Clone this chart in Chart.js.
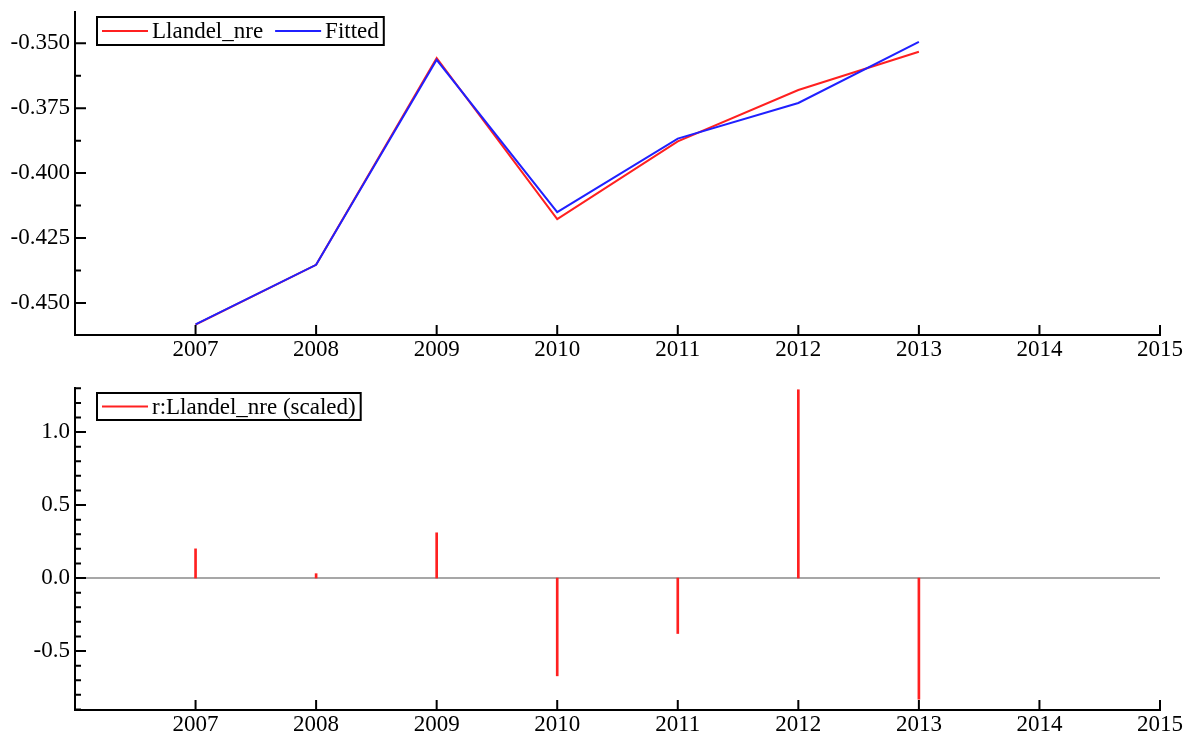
<!DOCTYPE html>
<html>
<head>
<meta charset="utf-8">
<script src="https://cdn.jsdelivr.net/npm/chart.js@4.4.1/dist/chart.umd.min.js"></script>
<style>
  body { margin: 0; background: #fff; }
  .panel { position: absolute; left: 0; }
</style>
</head>
<body>
<div class="panel" style="top:0"><canvas id="fitChart" width="1187" height="368"></canvas></div>
<div class="panel" style="top:368px"><canvas id="resChart" width="1187" height="368"></canvas></div>
<script>
// values
var years = [2007, 2008, 2009, 2010, 2011, 2012, 2013];
var actual = [-0.4583, -0.4353, -0.3557, -0.4177, -0.3878, -0.3680, -0.3533];
var fitted = [-0.4582, -0.4353, -0.3564, -0.4150, -0.3867, -0.3730, -0.3495];
var residuals = [0.20, 0.03, 0.31, -0.67, -0.38, 1.29, -0.83];

var xTickVals = [2007, 2008, 2009, 2010, 2011, 2012, 2013, 2014, 2015];
var yTicksTop = [-0.450, -0.425, -0.400, -0.375, -0.350];
var yTicksBottom = [-0.5, 0.0, 0.5, 1.0];

var FONT = "'Liberation Serif', 'Times New Roman', serif";
Chart.defaults.font.family = FONT;
Chart.defaults.font.size = 23;
Chart.defaults.color = "#000";

function pairs(xs, ys) {
  return xs.map(function (x, i) { return { x: x, y: ys[i] }; });
}

// ticks drawn on the inside of the axes, plus minor ticks and zero line
var axisDeco = {
  id: "axisDeco",
  beforeDatasetsDraw: function (chart, args, opts) {
    if (!opts.zeroLine) return;
    var a = chart.chartArea, y = chart.scales.y, ctx = chart.ctx;
    var py = y.getPixelForValue(0);
    ctx.save();
    ctx.strokeStyle = "#8a8a8a";
    ctx.lineWidth = 1.5;
    ctx.beginPath();
    ctx.moveTo(a.left, py);
    ctx.lineTo(a.right, py);
    ctx.stroke();
    ctx.restore();
  },
  afterDraw: function (chart, args, opts) {
    var a = chart.chartArea, x = chart.scales.x, y = chart.scales.y, ctx = chart.ctx;
    ctx.save();
    ctx.strokeStyle = "#000";
    ctx.lineWidth = 2;
    ctx.beginPath();
    x.ticks.forEach(function (t) {
      var px = x.getPixelForValue(t.value);
      ctx.moveTo(px, a.bottom);
      ctx.lineTo(px, a.bottom - 10);
    });
    y.ticks.forEach(function (t) {
      var py = y.getPixelForValue(t.value);
      ctx.moveTo(a.left, py);
      ctx.lineTo(a.left + 11, py);
    });
    var step = opts.minorStep;
    for (var k = Math.ceil(y.min / step); k <= Math.floor(y.max / step); k++) {
      var v = k * step;
      var major = y.ticks.some(function (t) { return Math.abs(t.value - v) < step / 100; });
      if (major) continue;
      var py2 = y.getPixelForValue(v);
      ctx.moveTo(a.left, py2);
      ctx.lineTo(a.left + 6, py2);
    }
    ctx.stroke();
    ctx.restore();
  }
};

// framed legend like the original
var boxLegend = {
  id: "boxLegend",
  afterDraw: function (chart, args, opts) {
    var ctx = chart.ctx;
    ctx.save();
    ctx.font = "23px " + FONT;
    ctx.textBaseline = "middle";
    var cx = opts.x + 5, cy = opts.y + opts.h / 2;
    chart.data.datasets.forEach(function (ds, i) {
      if (i > 0) cx += 12;
      ctx.strokeStyle = ds.borderColor || ds.backgroundColor;
      ctx.lineWidth = 2;
      ctx.beginPath();
      ctx.moveTo(cx, cy);
      ctx.lineTo(cx + 46, cy);
      ctx.stroke();
      cx += 50;
      ctx.fillStyle = "#000";
      ctx.fillText(ds.label, cx, cy + 1);
      cx += ctx.measureText(ds.label).width;
    });
    ctx.strokeStyle = "#000";
    ctx.lineWidth = 2;
    ctx.strokeRect(opts.x, opts.y, cx + 5 - opts.x, opts.h);
    ctx.restore();
  }
};

function xScale(height) {
  return {
    type: "linear",
    min: 2006,
    max: 2015,
    offset: false,
    grid: { display: false, drawTicks: false, offset: false },
    border: { display: true, color: "#000", width: 2 },
    afterBuildTicks: function (s) { s.ticks = xTickVals.map(function (v) { return { value: v }; }); },
    afterFit: function (s) { s.height = height; },
    ticks: { padding: 1, autoSkip: false, maxRotation: 0, callback: function (v) { return String(v); } }
  };
}

function yScale(min, max, vals, digits) {
  return {
    min: min,
    max: max,
    grid: { display: false, drawTicks: false },
    border: { display: true, color: "#000", width: 2 },
    afterBuildTicks: function (s) { s.ticks = vals.map(function (v) { return { value: v }; }); },
    afterFit: function (s) { s.width = 75; s.paddingTop = 0; s.paddingBottom = 0; },
    ticks: { padding: 5, callback: function (v) { return v.toFixed(digits); } }
  };
}

new Chart(document.getElementById("fitChart"), {
  type: "line",
  data: {
    datasets: [
      { label: "Llandel_nre", data: pairs(years, actual), borderColor: "#ff2020", borderWidth: 2, pointRadius: 0, tension: 0, order: 2 },
      { label: "Fitted", data: pairs(years, fitted), borderColor: "#2020ff", borderWidth: 2, pointRadius: 0, tension: 0, order: 1 }
    ]
  },
  options: {
    responsive: false,
    animation: false,
    layout: { padding: { left: 0, right: 27, top: 12, bottom: 0 } },
    scales: { x: xScale(33), y: yScale(-0.4623, -0.338, yTicksTop, 3) },
    plugins: {
      legend: { display: false },
      tooltip: { enabled: false },
      axisDeco: { minorStep: 0.0125, zeroLine: false },
      boxLegend: { x: 97, y: 17, h: 28 }
    }
  },
  plugins: [axisDeco, boxLegend]
});

new Chart(document.getElementById("resChart"), {
  type: "bar",
  data: {
    datasets: [
      { label: "r:Llandel_nre (scaled)", data: pairs(years, residuals), backgroundColor: "#ff2020", borderColor: "#ff2020", barThickness: 2 }
    ]
  },
  options: {
    responsive: false,
    animation: false,
    layout: { padding: { left: 0, right: 27, top: 20, bottom: 0 } },
    scales: { x: xScale(26), y: yScale(-0.904, 1.302, yTicksBottom, 1) },
    plugins: {
      legend: { display: false },
      tooltip: { enabled: false },
      axisDeco: { minorStep: 0.1, zeroLine: true },
      boxLegend: { x: 97, y: 25, h: 27 }
    }
  },
  plugins: [axisDeco, boxLegend]
});
</script>
</body>
</html>
